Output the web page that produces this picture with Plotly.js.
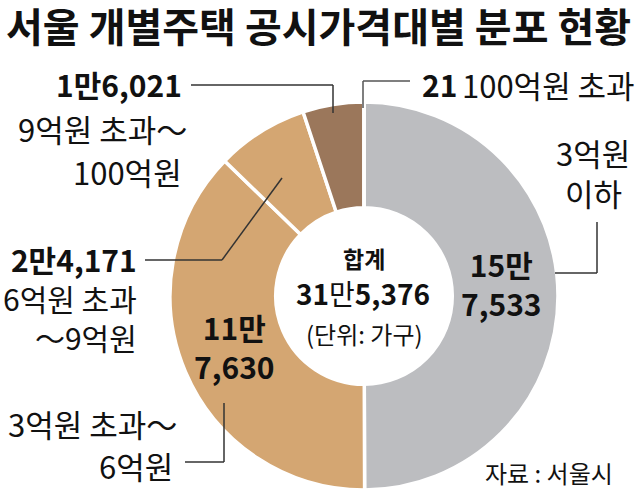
<!DOCTYPE html>
<html>
<head>
<meta charset="utf-8">
<script src="https://cdn.plot.ly/plotly-3.0.1.min.js"></script>
<style>html,body{margin:0;padding:0;background:#fff;}</style>
</head>
<body>
<div id="chart" style="width:638px;height:494px;"></div>
<script>
// ---- data ----
const categories = ['3억원 이하', '3억원 초과～6억원', '6억원 초과～9억원', '9억원 초과～100억원', '100억원 초과'];
const values = [157533, 117630, 24171, 16021, 21];
const colors = ['#bcbdc0', '#d4a672', '#d4a672', '#9b775b', '#ffffff'];
const titleText = '서울 개별주택 공시가격대별 분포 현황';
const sourceText = '자료 : 서울시';
const unitText = '(단위: 가구)';
const totalLabel = '합계';

// ---- helpers ----
const W = 638, H = 494;
const FONT = '"Noto Sans CJK KR", "Noto Sans", sans-serif';
function fmt(v) {
  const man = Math.floor(v / 10000), rest = v % 10000;
  const r = rest.toLocaleString('en-US');
  return man > 0 ? {man: man + '만', rest: r} : {man: '', rest: r};
}
const px = x => x / W;
const py = y => 1 - y / H;
const total = values.reduce((a, b) => a + b, 0);

const cx = 364, cy = 296, R = 194;
const data = [{
  type: 'pie',
  labels: categories,
  values: values,
  sort: false,
  direction: 'clockwise',
  rotation: 0,
  hole: 0.455,
  marker: {colors: colors, line: {color: '#ffffff', width: 3.5}},
  textinfo: 'none',
  hoverinfo: 'skip',
  showlegend: false,
  domain: {x: [px(cx - R), px(cx + R)], y: [py(cy + R), py(cy - R)]}
}];

function ann(text, x, y, anchor, size, extra) {
  return Object.assign({
    text: text, xref: 'paper', yref: 'paper', x: px(x), y: py(y),
    xanchor: anchor, yanchor: 'middle', showarrow: false, borderpad: 0,
    align: anchor === 'left' ? 'left' : (anchor === 'right' ? 'right' : 'center'),
    font: {family: FONT, size: size, color: '#111'}
  }, extra || {});
}
const f0 = fmt(values[0]), f1 = fmt(values[1]), f2 = fmt(values[2]), f3 = fmt(values[3]), f4 = fmt(values[4]), ft = fmt(total);
const RS = 31, BS = 30;

const annotations = [
  ann('<b>' + titleText + '</b>', 318, 25, 'center', 40),
  // 9억~100억
  ann('<b>' + f3.man + f3.rest + '</b>', 183, 84, 'right', BS),
  ann('9억원 초과～', 188, 128, 'right', RS),
  ann('100억원', 183, 172, 'right', RS),
  // 100억 초과
  ann('<b>' + f4.rest + '</b>', 421, 84, 'left', BS),
  ann(categories[4], 461, 84, 'left', RS),
  // 3억 이하
  ann('3억원', 593, 152, 'center', RS),
  ann('이하', 593, 193, 'center', RS),
  ann('<b>' + f0.man + '<br>' + f0.rest + '</b>', 501, 283, 'center', BS),
  // 6억~9억
  ann('<b>' + f2.man + f2.rest + '</b><br>6억원 초과<br>～9억원', 138, 298, 'right', BS),
  // 3억~6억
  ann('<b>' + f1.man + '<br>' + f1.rest + '</b>', 234, 346, 'center', BS),
  ann('3억원 초과～', 178, 423, 'right', RS),
  ann('6억원', 174, 465, 'right', RS),
  // center
  ann('<b>' + totalLabel + '</b>', 364, 258, 'center', 23),
  ann('<b>' + ft.man.replace('만', '') + '</b>만<b>' + ft.rest + '</b>', 363, 293, 'center', 28),
  ann(unitText, 364, 333, 'center', 24),
  // source
  ann(sourceText, 614, 472, 'right', 24)
];

function line(x0, y0, x1, y1, color) {
  return {type: 'line', xref: 'paper', yref: 'paper', x0: px(x0), y0: py(y0), x1: px(x1), y1: py(y1),
          line: {color: color || '#333', width: 1.5}};
}
const shapes = [
  // 9억~100억 leader
  line(191, 85, 333, 85), line(333, 85, 333, 113),
  // 100억 초과 leader
  line(410, 81, 363, 81, '#555'), line(363, 81, 363, 108, '#555'),
  // 3억 이하 leader
  line(597, 222, 597, 273), line(597, 273, 555, 273),
  // 6억~9억 leader
  line(145, 260, 222, 260), line(222, 260, 282, 178),
  // 3억~6억 leader
  line(185, 462, 224, 462), line(224, 462, 224, 403)
];

const layout = {
  width: W, height: H,
  margin: {l: 0, r: 0, t: 0, b: 0},
  paper_bgcolor: '#ffffff', plot_bgcolor: '#ffffff',
  showlegend: false,
  annotations: annotations,
  shapes: shapes
};
Plotly.newPlot('chart', data, layout, {displayModeBar: false, staticPlot: true});
</script>
</body>
</html>
